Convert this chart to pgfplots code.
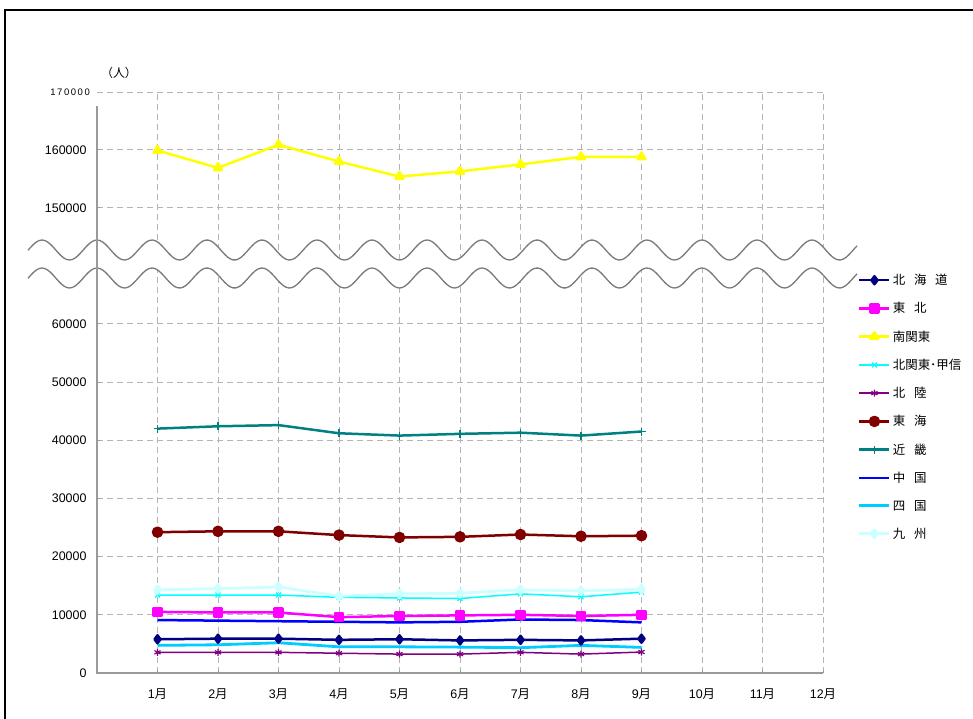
\documentclass[border=0pt]{standalone}
\usepackage{fontspec}
\setmainfont{Liberation Sans}
\newfontfamily\cjk{Noto Sans CJK JP}
\usepackage{pgfplots}
\pgfplotsset{compat=1.18}
\definecolor{gridgray}{HTML}{B4B4B4}
\definecolor{axisgray}{HTML}{9A9A9A}
\definecolor{wavegray}{HTML}{7A7A7A}
\definecolor{cHok}{HTML}{000080}
\definecolor{cToh}{HTML}{FF00FF}
\definecolor{cMin}{HTML}{FFFF00}
\definecolor{cKit}{HTML}{00FFFF}
\definecolor{cHkr}{HTML}{800080}
\definecolor{cTok}{HTML}{800000}
\definecolor{cKin}{HTML}{008080}
\definecolor{cChu}{HTML}{0000FF}
\definecolor{cShi}{HTML}{00CCFF}
\definecolor{cKyu}{HTML}{CCFFFF}
\pgfplotsset{mystyle/.style={
  scale only axis, width=726bp, xmin=0, xmax=12, xtick={1,...,12},
  scaled ticks=false,
  /pgf/number format/fixed,
  /pgf/number format/precision=0,
  /pgf/number format/1000 sep={},
  /pgf/number format/assume math mode=true,
  grid=major, grid style={gridgray, dash pattern=on 6bp off 4bp, line width=0.9bp},
  axis line style={draw=none}, tick pos=left, tick align=inside,
  major tick length=3bp, tick style={axisgray, line width=1bp},
  tick label style={font=\fontsize{12.5}{14}\selectfont},
  yticklabel style={xshift=-7bp},
  xticklabel style={yshift=-12bp},
  every axis plot/.append style={line join=round},
}}
\begin{document}
\begin{tikzpicture}
\useasboundingbox (0bp,0bp) rectangle (973bp,-719bp);
\fill[white] (0bp,0bp) rectangle (973bp,-719bp);
\begin{axis}[mystyle, name=up, at={(97bp,-92bp)}, anchor=north west, height=168bp,
  ymin=141000, ymax=170000, ytick={150000,160000},
  extra y ticks={170000}, extra y tick labels={\mbox{}},
  extra y tick style={grid=major, major tick length=0pt},
  xticklabels={}, xtick style={draw=none}]
\addplot[color=cMin, line width=2.5bp, mark=triangle*, mark size=4.5bp, mark options={solid}]
 coordinates {(1,159900) (2,156900) (3,160900) (4,158000) (5,155400) (6,156300) (7,157500) (8,158800) (9,158800)};
\end{axis}
\begin{axis}[mystyle, name=low, at={(97bp,-673bp)}, anchor=south west, height=405bp,
  ymin=0, ymax=69600, ytick={0,10000,...,60000},
  xticklabels={1{\cjk 月},2{\cjk 月},3{\cjk 月},4{\cjk 月},5{\cjk 月},6{\cjk 月},7{\cjk 月},8{\cjk 月},9{\cjk 月},10{\cjk 月},11{\cjk 月},12{\cjk 月}},
  legend style={at={(1.048,0.99)}, anchor=north west, draw=none, fill=none, inner sep=0pt,
    font=\cjk\fontsize{12.5}{14}\selectfont, row sep=12.3bp,
    /tikz/every even column/.append style={column sep=2bp}},
  legend cell align=left,
  legend image code/.code={\draw[mark repeat=2,mark phase=2] plot coordinates {(0bp,0bp) (15bp,0bp) (30bp,0bp)};}]
\addplot[color=cHok, line width=2.5bp, mark=diamond*, mark size=4bp]
 coordinates {(1,5800) (2,5900) (3,5900) (4,5700) (5,5800) (6,5600) (7,5700) (8,5600) (9,5900)};
\addlegendentry{北\hspace{0.7em}海\hspace{0.7em}道}
\addplot[color=cToh, line width=2.5bp, mark=square*, mark size=4bp]
 coordinates {(1,10500) (2,10400) (3,10400) (4,9600) (5,9800) (6,9900) (7,10000) (8,9800) (9,10000)};
\addlegendentry{東\hspace{0.7em}北}
\addlegendimage{color=cMin, line width=2.5bp, mark=triangle*, mark size=4.5bp}
\addlegendentry{南関東}
\addplot[color=cKit, line width=1.5bp, mark=x, mark size=3.5bp, mark options={line width=1.2bp}]
 coordinates {(1,13400) (2,13400) (3,13400) (4,13000) (5,12900) (6,12800) (7,13600) (8,13100) (9,13900)};
\addlegendentry{北関東･甲信}
\addplot[color=cHkr, line width=1.5bp, mark=asterisk, mark size=3.5bp, mark options={line width=1.2bp}]
 coordinates {(1,3550) (2,3550) (3,3550) (4,3400) (5,3250) (6,3250) (7,3550) (8,3250) (9,3600)};
\addlegendentry{北\hspace{0.7em}陸}
\addplot[color=cTok, line width=2.5bp, mark=*, mark size=4.5bp]
 coordinates {(1,24200) (2,24350) (3,24350) (4,23700) (5,23300) (6,23400) (7,23800) (8,23500) (9,23600)};
\addlegendentry{東\hspace{0.7em}海}
\addplot[color=cKin, line width=2.5bp, mark=+, mark size=4bp, mark options={line width=1.2bp}]
 coordinates {(1,42000) (2,42400) (3,42600) (4,41200) (5,40800) (6,41100) (7,41300) (8,40800) (9,41500)};
\addlegendentry{近\hspace{0.7em}畿}
\addplot[color=cChu, line width=2.5bp, mark=none]
 coordinates {(1,9100) (2,9000) (3,8900) (4,8800) (5,8700) (6,8800) (7,9200) (8,9100) (9,8700)};
\addlegendentry{中\hspace{0.7em}国}
\addplot[color=cShi, line width=2.8bp, mark=none]
 coordinates {(1,4750) (2,4850) (3,5200) (4,4500) (5,4500) (6,4450) (7,4350) (8,4750) (9,4400)};
\addlegendentry{四\hspace{0.7em}国}
\addplot[color=cKyu, line width=2.8bp, mark=diamond*, mark size=4bp]
 coordinates {(1,14300) (2,14500) (3,14800) (4,13200) (5,13600) (6,13700) (7,14300) (8,14100) (9,14400)};
\addlegendentry{九\hspace{0.7em}州}
\end{axis}
\begin{scope}[x=1bp, y=-1bp]
\fill[white] plot[domain=28:857, samples=300] (\x,{250-10*cos(6.545454*(\x-97))})
  -- plot[domain=857:28, samples=300] (\x,{278-10*cos(6.545454*(\x-97))}) -- cycle;
\draw[wavegray, line width=1.3bp] plot[domain=28:857, samples=300] (\x,{250-10*cos(6.545454*(\x-97))});
\draw[wavegray, line width=1.3bp] plot[domain=28:857, samples=300] (\x,{278-10*cos(6.545454*(\x-97))});
\draw[axisgray, line width=2.5bp] (97,106) -- (97,673) -- (823,673);
\draw[black, line width=1.5bp] (5,725) -- (5,10) -- (980,10);
\node[font=\cjk\fontsize{12}{14}\selectfont] at (119,73) {（人）};
\node[anchor=east, font=\fontsize{9.5}{10}\selectfont, inner sep=0pt] at (90,92) {1\,7\,0\,0\,0\,0};
\end{scope}
\end{tikzpicture}
\end{document}
